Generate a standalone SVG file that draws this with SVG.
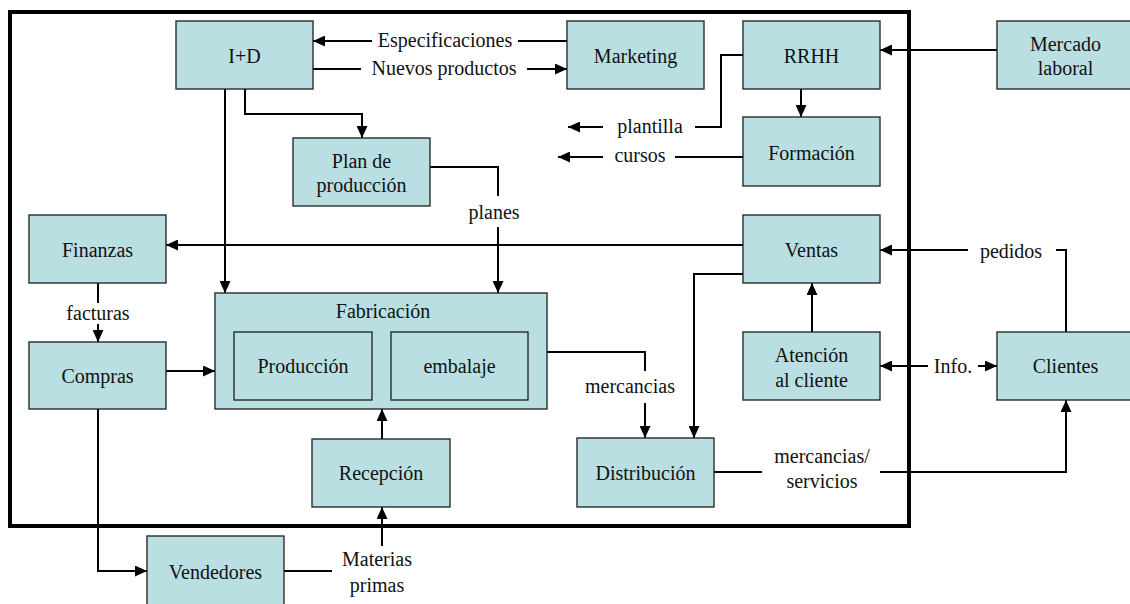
<svg xmlns="http://www.w3.org/2000/svg" width="1130" height="604" viewBox="0 0 1130 604">
  <style>
    .box { fill: #b9dfe2; stroke: #2b2b2b; stroke-width: 1.4; }
    .t { font-size: 20px; fill: #111; text-anchor: middle; }
    .c { fill: none; stroke: #000; stroke-width: 2; }
    .a { marker-end: url(#arrow); }
    .frame { fill: none; stroke: #000; stroke-width: 4; }
  </style>
  <defs>
    <marker id="arrow" viewBox="0 0 12 11" refX="12" refY="5.5" markerWidth="12" markerHeight="11" markerUnits="userSpaceOnUse" orient="auto">
      <path d="M0,0 L12,5.5 L0,11 z" fill="#000"/>
    </marker>
  </defs>
  <rect width="1130" height="604" fill="#fff"/>

  <g font-family="'Liberation Serif', 'Times New Roman', Times, serif">
  <!-- company boundary -->
  <rect class="frame" x="10" y="12" width="899" height="514"/>

  <!-- connectors -->
  <g id="connectors">
    <path class="c" d="M567,41 H518"/>
    <path class="c a" d="M372,41 H313"/>
    <path class="c" d="M313,69 H361"/>
    <path class="c a" d="M527,69 H567"/>
    <path class="c a" d="M245,89 V114 H362 V138"/>
    <path class="c a" d="M225,89 V293"/>
    <path class="c" d="M430,167 H498 V196"/>
    <path class="c a" d="M498,227 V293"/>
    <path class="c" d="M743,55 H721 V127 H695"/>
    <path class="c a" d="M603,127 H568"/>
    <path class="c" d="M743,157 H675"/>
    <path class="c a" d="M603,157 H558"/>
    <path class="c a" d="M801,89 V117"/>
    <path class="c a" d="M997,50 H880"/>
    <path class="c a" d="M743,245 H166"/>
    <path class="c a" d="M743,274 H694 V438"/>
    <path class="c" d="M547,352 H645 V371"/>
    <path class="c a" d="M645,403 V438"/>
    <path class="c" d="M98,283 V303"/>
    <path class="c a" d="M98,324 V342"/>
    <path class="c a" d="M166,371 H215"/>
    <path class="c a" d="M98,409 V571 H147"/>
    <path class="c" d="M284,571 H332"/>
    <path class="c a" d="M382,546 V507"/>
    <path class="c a" d="M382,439 V409"/>
    <path class="c a" d="M812,332 V283"/>
    <path class="c" d="M1066,332 V250 H1056"/>
    <path class="c a" d="M968,250 H880"/>
    <path class="c a" d="M928,366 H880"/>
    <path class="c a" d="M978,366 H997"/>
    <path class="c" d="M714,472 H762"/>
    <path class="c a" d="M880,472 H1066 V400"/>

    <text class="t" x="445" y="47">Especificaciones</text>
    <text class="t" x="444" y="75">Nuevos productos</text>
    <text class="t" x="494" y="219">planes</text>
    <text class="t" x="650" y="133">plantilla</text>
    <text class="t" x="640" y="162">cursos</text>
    <text class="t" x="630" y="393">mercancias</text>
    <text class="t" x="98" y="320">facturas</text>
    <text class="t" x="377" y="566">Materias</text>
    <text class="t" x="377" y="592">primas</text>
    <text class="t" x="1011" y="258">pedidos</text>
    <text class="t" x="953" y="373">Info.</text>
    <text class="t" x="822" y="463">mercancias/</text>
    <text class="t" x="822" y="488">servicios</text>
  </g>

  <g id="id-node">
    <rect class="box" x="176" y="21" width="137" height="68"/>
    <text class="t" x="244.5" y="63">I+D</text>
  </g>
  <g id="marketing">
    <rect class="box" x="567" y="21" width="137" height="68"/>
    <text class="t" x="635.5" y="63">Marketing</text>
  </g>
  <g id="rrhh">
    <rect class="box" x="743" y="21" width="137" height="68"/>
    <text class="t" x="811.5" y="63">RRHH</text>
  </g>
  <g id="mercado-laboral">
    <rect class="box" x="997" y="21" width="137" height="68"/>
    <text class="t" x="1065.5" y="51">Mercado</text>
    <text class="t" x="1065.5" y="75">laboral</text>
  </g>
  <g id="formacion">
    <rect class="box" x="743" y="117" width="137" height="69"/>
    <text class="t" x="811.5" y="160">Formación</text>
  </g>
  <g id="plan-produccion">
    <rect class="box" x="293" y="138" width="137" height="68"/>
    <text class="t" x="361.5" y="168">Plan de</text>
    <text class="t" x="361.5" y="192">producción</text>
  </g>
  <g id="finanzas">
    <rect class="box" x="29" y="215" width="137" height="68"/>
    <text class="t" x="97.5" y="257">Finanzas</text>
  </g>
  <g id="ventas">
    <rect class="box" x="743" y="215" width="137" height="68"/>
    <text class="t" x="811.5" y="257">Ventas</text>
  </g>
  <g id="compras">
    <rect class="box" x="29" y="342" width="137" height="67"/>
    <text class="t" x="97.5" y="383">Compras</text>
  </g>
  <g id="fabricacion">
    <rect class="box" x="215" y="293" width="332" height="116"/>
    <text class="t" x="383" y="318">Fabricación</text>
    <g id="produccion">
      <rect class="box" x="234" y="332" width="138" height="68"/>
      <text class="t" x="303" y="373">Producción</text>
    </g>
    <g id="embalaje">
      <rect class="box" x="391" y="332" width="137" height="68"/>
      <text class="t" x="459.5" y="373">embalaje</text>
    </g>
  </g>
  <g id="atencion-cliente">
    <rect class="box" x="743" y="332" width="137" height="68"/>
    <text class="t" x="811.5" y="362">Atención</text>
    <text class="t" x="811.5" y="387">al cliente</text>
  </g>
  <g id="clientes">
    <rect class="box" x="997" y="332" width="137" height="68"/>
    <text class="t" x="1065.5" y="373">Clientes</text>
  </g>
  <g id="recepcion">
    <rect class="box" x="312" y="439" width="138" height="68"/>
    <text class="t" x="381" y="480">Recepción</text>
  </g>
  <g id="distribucion">
    <rect class="box" x="577" y="438" width="137" height="69"/>
    <text class="t" x="645.5" y="480">Distribución</text>
  </g>
  <g id="vendedores">
    <rect class="box" x="147" y="536" width="137" height="70"/>
    <text class="t" x="215.5" y="579">Vendedores</text>
  </g>
  </g>
</svg>
